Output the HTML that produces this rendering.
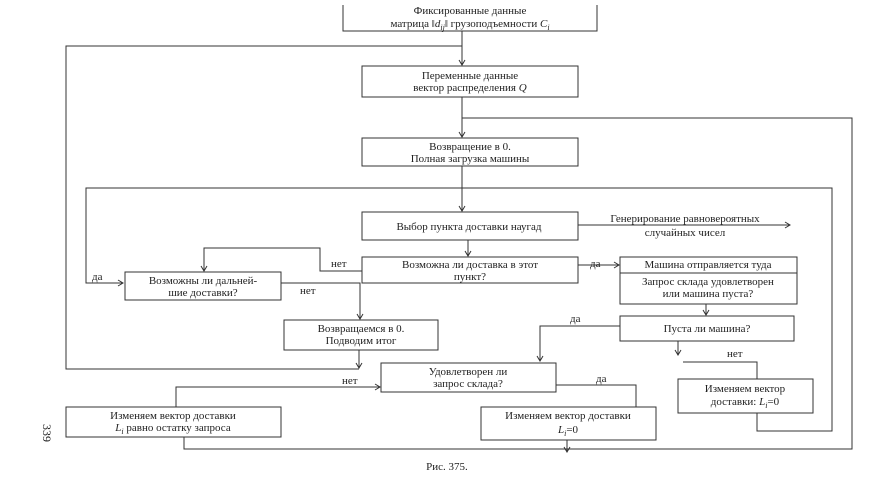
<!DOCTYPE html>
<html><head><meta charset="utf-8"><style>
html,body{margin:0;padding:0;background:#fff}
svg{display:block}
text{font-family:"Liberation Serif",serif;font-size:11px;fill:#222}
</style></head><body>
<svg width="894" height="500" viewBox="0 0 894 500">
<defs><marker id="a" markerWidth="8" markerHeight="8" refX="6" refY="4" orient="auto"><path d="M1,1 L6,4 L1,7" fill="none" stroke="#333" stroke-width="1"/></marker></defs>
<g fill="none" stroke="#333" stroke-width="1">
<path d="M343,5 V31 H597 V5"/>
<rect x="362" y="66" width="216" height="31"/>
<rect x="362" y="138" width="216" height="28"/>
<rect x="362" y="212" width="216" height="28"/>
<rect x="362" y="257" width="216" height="26"/>
<rect x="620" y="257" width="177" height="47"/>
<line x1="620" y1="273" x2="797" y2="273"/>
<rect x="125" y="272" width="156" height="28"/>
<rect x="284" y="320" width="154" height="30"/>
<rect x="620" y="316" width="174" height="25"/>
<rect x="381" y="363" width="175" height="29"/>
<rect x="66" y="407" width="215" height="30"/>
<rect x="481" y="407" width="175" height="33"/>
<rect x="678" y="379" width="135" height="34"/>
<line x1="462" y1="31" x2="462" y2="65" marker-end="url(#a)"/>
<line x1="462" y1="97" x2="462" y2="137" marker-end="url(#a)"/>
<line x1="462" y1="166" x2="462" y2="211" marker-end="url(#a)"/>
<line x1="468" y1="240" x2="468" y2="256" marker-end="url(#a)"/>
<path d="M462,46 H66 V369 H359"/>
<line x1="359" y1="350" x2="359" y2="368" marker-end="url(#a)"/>
<path d="M462,118 H852 V449 H184 V437"/>
<line x1="567" y1="440" x2="567" y2="452" marker-end="url(#a)"/>
<path d="M462,188 H86 V283 H123" marker-end="url(#a)"/>
<path d="M462,188 H832 V431 H757 V413"/>
<line x1="578" y1="225" x2="790" y2="225" marker-end="url(#a)"/>
<path d="M362,271 H320 V248 H204 V271" marker-end="url(#a)"/>
<line x1="578" y1="265" x2="619" y2="265" marker-end="url(#a)"/>
<path d="M281,283 H360 V319" marker-end="url(#a)"/>
<line x1="706" y1="304" x2="706" y2="315" marker-end="url(#a)"/>
<path d="M620,326 H540 V361" marker-end="url(#a)"/>
<line x1="678" y1="341" x2="678" y2="355" marker-end="url(#a)"/>
<path d="M683,362 H757 V379"/>
<path d="M176,407 V387 H380" marker-end="url(#a)"/>
<path d="M556,385 H636 V407"/>
</g>
<g text-anchor="middle">
<text x="470" y="14">Фиксированные данные</text>
<text x="470" y="27">матрица ‖<tspan font-style="italic">d<tspan font-size="8" dy="3">ij</tspan></tspan><tspan dy="-3">‖ грузоподъемности </tspan><tspan font-style="italic">C<tspan font-size="8" dy="3">i</tspan></tspan></text>
<text x="470" y="79">Переменные данные</text>
<text x="470" y="91">вектор распределения <tspan font-style="italic">Q</tspan></text>
<text x="470" y="150">Возвращение в 0.</text>
<text x="470" y="162">Полная загрузка машины</text>
<text x="469" y="230">Выбор пункта доставки наугад</text>
<text x="470" y="268">Возможна ли доставка в этот</text>
<text x="470" y="280">пункт?</text>
<text x="708" y="268">Машина отправляется туда</text>
<text x="708" y="285">Запрос склада удовлетворен</text>
<text x="708" y="297">или машина пуста?</text>
<text x="685" y="222">Генерирование равновероятных</text>
<text x="685" y="236">случайных чисел</text>
<text x="203" y="284">Возможны ли дальней-</text>
<text x="203" y="296">шие доставки?</text>
<text x="361" y="332">Возвращаемся в 0.</text>
<text x="361" y="344">Подводим итог</text>
<text x="707" y="332">Пуста ли машина?</text>
<text x="468" y="375">Удовлетворен ли</text>
<text x="468" y="387">запрос склада?</text>
<text x="173" y="419">Изменяем вектор доставки</text>
<text x="173" y="431"><tspan font-style="italic">L<tspan font-size="8" dy="3">i</tspan></tspan><tspan dy="-3"> равно остатку запроса</tspan></text>
<text x="568" y="419">Изменяем вектор доставки</text>
<text x="568" y="433" font-style="italic">L<tspan font-size="8" dy="3">i</tspan><tspan dy="-3" font-style="normal">=0</tspan></text>
<text x="745" y="392">Изменяем вектор</text>
<text x="745" y="405">доставки: <tspan font-style="italic">L<tspan font-size="8" dy="3">i</tspan></tspan><tspan dy="-3">=0</tspan></text>
<text x="447" y="470" font-size="12">Рис. 375.</text>
</g>
<g font-size="10">
<text x="92" y="280">да</text>
<text x="331" y="267">нет</text>
<text x="300" y="294">нет</text>
<text x="590" y="267">да</text>
<text x="570" y="322">да</text>
<text x="727" y="357">нет</text>
<text x="342" y="384">нет</text>
<text x="596" y="382">да</text>
</g>
<text x="0" y="0" transform="translate(43,424) rotate(90)" style="font-size:12px">339</text>
</svg>
</body></html>
